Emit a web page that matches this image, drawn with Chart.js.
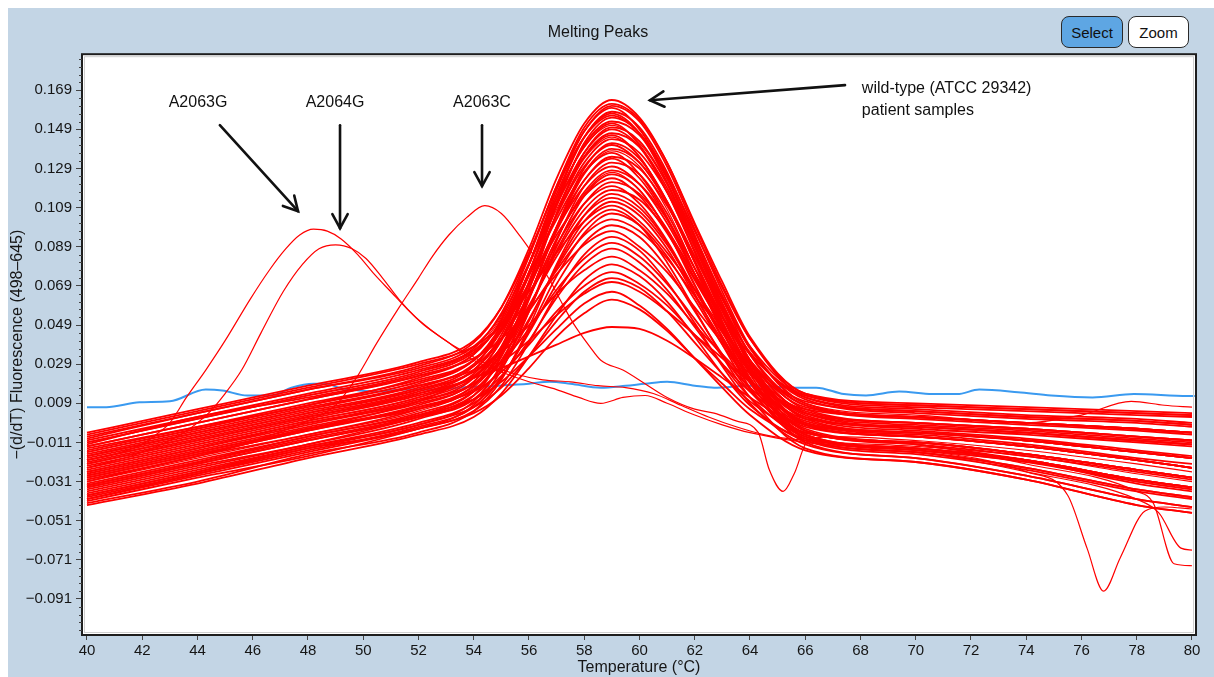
<!DOCTYPE html>
<html><head><meta charset="utf-8">
<script src="https://cdn.jsdelivr.net/npm/chart.js@4.4.1/dist/chart.umd.min.js"></script>
<style>
html,body{margin:0;padding:0;background:#fff;}
#wrap{position:relative;width:1214px;height:677px;overflow:hidden;}
canvas{display:block;}
.btn{position:absolute;top:16px;height:32px;border:1.5px solid #2a2a2a;border-radius:8px;font:15px "Liberation Sans",Arial,sans-serif;display:flex;align-items:center;justify-content:center;box-sizing:border-box;color:#111;}
</style></head><body>
<div id="wrap"><canvas id="c" width="1214" height="677"></canvas>
<div class="btn" style="left:1061px;width:62px;background:#5ea6e3;">Select</div>
<div class="btn" style="left:1128px;width:61px;background:#fff;">Zoom</div>
</div>
<script>
// ---------- data ----------
const xTickValues = [40,42,44,46,48,50,52,54,56,58,60,62,64,66,68,70,72,74,76,78,80];
const xTickLabels = ['40','42','44','46','48','50','52','54','56','58','60','62','64','66','68','70','72','74','76','78','80'];
const yTickValues = [-0.091,-0.071,-0.051,-0.031,-0.011,0.009,0.029,0.049,0.069,0.089,0.109,0.129,0.149,0.169];
const yTickLabels = ['\u22120.091','\u22120.071','\u22120.051','\u22120.031','\u22120.011','0.009','0.029','0.049','0.069','0.089','0.109','0.129','0.149','0.169'];

// wild-type / patient sample curves, sampled at wtTemps
const wtTemps = [40,44,48,52,54,55,56,57,58,59,60,61,62,63,64,66,70,74,78,80];
const wildType = [
[-.008,.004,.016,.028,.040,.058,.088,.124,.152,.164,.155,.132,.100,.069,.042,.012,.005,.002,.000,-.002],
[-.014,-.003,.008,.022,.034,.052,.084,.120,.150,.162,.154,.132,.101,.071,.043,.014,.008,.006,.004,.003],
[-.020,-.008,.004,.016,.028,.047,.080,.118,.148,.161,.153,.130,.098,.066,.038,.009,.002,-.001,-.004,-.006],
[-.011,.001,.013,.025,.037,.055,.085,.120,.148,.160,.149,.125,.093,.060,.031,-.002,-.008,-.013,-.020,-.024],
[-.026,-.014,-.001,.010,.022,.042,.075,.114,.145,.158,.150,.127,.095,.063,.034,.006,-.001,-.004,-.008,-.010],
[-.017,-.005,.007,.019,.031,.049,.080,.116,.145,.157,.147,.122,.090,.057,.028,-.005,-.011,-.017,-.025,-.029],
[-.006,.006,.018,.030,.041,.058,.086,.119,.145,.156,.147,.126,.097,.068,.042,.014,.009,.007,.005,.004],
[-.031,-.018,-.007,.006,.018,.037,.071,.110,.142,.155,.147,.124,.091,.058,.030,.001,-.006,-.010,-.016,-.019],
[-.022,-.010,.002,.014,.026,.044,.076,.112,.141,.153,.146,.124,.094,.064,.037,.011,.004,.001,-.001,-.003],
[-.013,-.001,.011,.023,.034,.051,.080,.114,.140,.152,.141,.117,.086,.054,.026,-.007,-.014,-.020,-.030,-.034],
[-.035,-.023,-.012,.001,.013,.033,.067,.106,.137,.150,.143,.121,.089,.058,.031,.004,-.003,-.006,-.010,-.012],
[-.019,-.007,.005,.017,.029,.046,.076,.110,.137,.149,.140,.117,.087,.056,.029,-.001,-.007,-.012,-.019,-.022],
[-.028,-.016,-.004,.008,.020,.038,.070,.106,.135,.147,.140,.119,.089,.060,.034,.008,.001,-.002,-.005,-.007],
[-.009,.004,.016,.027,.038,.054,.080,.111,.135,.146,.135,.111,.081,.051,.024,-.009,-.016,-.024,-.035,-.039],
[-.024,-.012,.000,.012,.024,.041,.071,.105,.132,.144,.137,.117,.090,.062,.038,.013,.007,.005,.003,.002],
[-.038,-.026,-.013,-.002,.010,.029,.062,.099,.129,.142,.134,.112,.081,.050,.022,-.005,-.012,-.018,-.026,-.030],
[-.016,-.004,.008,.020,.031,.047,.074,.105,.130,.141,.132,.112,.084,.056,.031,.004,-.002,-.005,-.009,-.011],
[-.033,-.021,-.009,.003,.015,.033,.063,.099,.127,.139,.132,.111,.082,.053,.027,.002,-.005,-.009,-.015,-.018],
[-.012,.002,.012,.024,.035,.050,.075,.103,.127,.137,.126,.104,.075,.046,.020,-.011,-.019,-.028,-.040,-.044],
[-.029,-.017,-.005,.007,.018,.035,.064,.097,.123,.135,.129,.110,.084,.058,.035,.012,.006,.003,.001,-.001],
[-.021,-.009,.003,.015,.026,.042,.068,.099,.123,.134,.124,.103,.075,.046,.021,-.008,-.015,-.021,-.031,-.035],
[-.040,-.027,-.014,-.004,.008,.026,.056,.092,.120,.132,.126,.106,.078,.050,.026,.003,-.004,-.007,-.011,-.013],
[-.015,-.003,.009,.021,.031,.046,.070,.098,.120,.130,.121,.101,.075,.049,.025,-.002,-.008,-.013,-.020,-.024],
[-.025,-.013,-.001,.011,.022,.037,.063,.093,.117,.128,.121,.103,.078,.053,.031,.008,.002,-.001,-.004,-.006],
[-.036,-.024,-.012,.002,.011,.028,.056,.089,.115,.126,.118,.097,.069,.042,.017,-.010,-.017,-.025,-.036,-.040],
[-.010,.002,.014,.026,.036,.049,.070,.095,.115,.124,.115,.096,.072,.048,.026,-.001,-.006,-.010,-.016,-.019],
[-.032,-.020,-.008,.004,.015,.031,.057,.087,.111,.122,.116,.098,.073,.049,.027,.005,-.001,-.004,-.008,-.010],
[-.018,-.006,.006,.018,.028,.042,.064,.090,.111,.120,.111,.092,.067,.043,.021,-.006,-.011,-.017,-.025,-.029],
[-.027,-.015,-.003,.009,.019,.034,.058,.086,.108,.118,.113,.097,.075,.053,.034,.013,.008,.006,.004,.003],
[-.042,-.031,-.017,-.006,.005,.021,.048,.080,.105,.116,.109,.091,.065,.039,.016,-.007,-.014,-.020,-.030,-.034],
[-.023,-.011,.001,.013,.023,.036,.059,.084,.105,.114,.107,.090,.067,.045,.025,.002,-.003,-.006,-.010,-.012],
[-.034,-.022,-.010,.002,.013,.027,.051,.079,.102,.112,.105,.088,.064,.041,.020,-.002,-.008,-.013,-.020,-.024],
[-.007,.005,.017,.029,.038,.049,.066,.086,.102,.110,.102,.086,.067,.047,.029,.007,.002,-.001,-.004,-.006],
[-.030,-.018,-.004,.006,.016,.030,.052,.078,.099,.108,.100,.081,.057,.033,.012,-.014,-.021,-.030,-.043,-.047],
[-.039,-.027,-.015,-.003,.007,.022,.046,.074,.096,.106,.100,.084,.062,.039,.020,.000,-.006,-.010,-.016,-.019],
[-.020,-.008,.004,.016,.025,.037,.056,.077,.095,.103,.097,.083,.064,.046,.029,.010,.005,.002,.000,-.002],
[-.037,-.025,-.013,-.001,.009,.022,.045,.070,.091,.100,.094,.078,.056,.034,.015,-.006,-.011,-.017,-.025,-.029],
[-.013,-.001,.011,.023,.032,.042,.057,.075,.090,.097,.089,.076,.058,.040,.024,.004,-.001,-.004,-.008,-.010],
[-.041,-.029,-.018,-.004,.005,.018,.040,.065,.085,.094,.087,.071,.050,.028,.009,-.012,-.019,-.028,-.040,-.044],
[-.026,-.014,-.002,.010,.019,.030,.047,.067,.083,.091,.084,.070,.052,.033,.017,-.003,-.008,-.013,-.020,-.024],
[-.034,-.022,-.010,.002,.011,.023,.041,.063,.080,.088,.081,.067,.048,.029,.012,-.008,-.014,-.020,-.030,-.034],
[-.018,-.006,.006,.018,.026,.035,.049,.065,.077,.084,.077,.065,.049,.034,.020,.001,-.003,-.006,-.010,-.012],
[-.043,-.032,-.019,-.007,.002,.014,.033,.054,.072,.080,.074,.061,.043,.024,.008,-.010,-.016,-.024,-.035,-.039],
[-.029,-.017,-.005,.007,.015,.025,.039,.056,.069,.076,.070,.059,.044,.029,.015,-.002,-.006,-.010,-.016,-.019],
[-.038,-.026,-.014,-.002,.007,.017,.033,.051,.066,.073,.068,.056,.040,.024,.010,-.006,-.011,-.017,-.025,-.029],
[-.022,-.010,.002,.014,.022,.030,.041,.054,.065,.071,.066,.056,.044,.032,.020,.006,.002,-.001,-.004,-.006],
[-.033,-.021,-.008,.003,.011,.020,.033,.047,.060,.066,.059,.047,.032,.017,.003,-.015,-.021,-.030,-.043,-.047],
[-.040,-.028,-.016,-.004,.004,.013,.027,.043,.055,.062,.057,.046,.032,.019,.006,-.009,-.014,-.020,-.030,-.034],
[-.028,-.016,-.004,.010,.022,.027,.033,.039,.045,.048,.047,.041,.032,.022,.012,-.004,-.012,-.020,-.032,-.036]
];

// patient curves with irregular tails
const dipTemps = [40,44,48,52,54,55,56,57,58,59,60,61,62,63,64,66,70,74,75.5,76.2,76.8,77.4,78.3,79,80];
const dipValues = [-.031,-.019,-.007,.005,.017,.034,.064,.098,.126,.138,.130,.108,.078,.048,.022,-.007,-.015,-.026,-.038,-.065,-.087,-.070,-.046,-.044,-.045];
const dropATemps = [40,44,48,52,54,55,56,57,58,59,60,61,62,63,64,66,70,74,78,78.8,79.6,80];
const dropAValues = [-.024,-.012,.000,.012,.023,.038,.063,.093,.116,.127,.118,.097,.070,.043,.019,-.009,-.016,-.026,-.040,-.047,-.065,-.066];
const dropBTemps = [40,44,48,52,54,55,56,57,58,59,60,61,62,63,64,66,70,74,78,78.6,79.35,80];
const dropBValues = [-.016,-.004,.008,.020,.031,.048,.076,.108,.134,.145,.135,.112,.082,.053,.026,-.005,-.012,-.022,-.036,-.042,-.073,-.074];
const bumpTemps = [40,44,48,52,54,55,56,57,58,59,60,61,62,63,64,66,70,74,76,77.8,79,80];
const bumpValues = [-.011,.001,.013,.025,.036,.053,.081,.114,.140,.151,.142,.121,.092,.063,.037,.009,.003,-.001,.003,.010,.008,.007];

// mutant curves
const a2063gTemps = [40,41,42,42.5,43,43.6,44.3,45,45.9,46.6,47.2,47.7,48.2,48.7,49.2,49.8,50.4,51,51.6,52.2,53,54,55,56,57,57.8,58.6,59.4,60.2,61,62,63,64,66,70,74,78,80];
const a2063gValues = [-.020,-.017,-.012,-.007,-.001,.012,.026,.041,.062,.077,.088,.095,.098,.097,.093,.085,.075,.066,.057,.049,.041,.031,.025,.020,.016,.012,.009,.012,.013,.009,.003,-.002,-.006,-.011,-.015,-.021,-.031,-.035];
const a2064gTemps = [40,42,43.5,44.4,45,45.6,46.3,47.1,47.8,48.4,49,49.6,50.1,50.7,51.3,51.9,52.5,53.1,53.7,54.5,55.5,56.5,57.5,58.5,59.5,60.5,61.5,62.5,63.5,64.5,66,70,74,78,80];
const a2064gValues = [-.024,-.016,-.006,.004,.014,.026,.045,.066,.080,.088,.090,.088,.083,.073,.062,.053,.046,.040,.035,.029,.024,.021,.020,.018,.017,.014,.008,.002,-.003,-.007,-.010,-.013,-.018,-.027,-.031];
const a2063cTemps = [40,44,48,49,49.75,50.5,51.3,52,52.5,53.1,53.75,54.4,55,55.7,56.2,56.75,57.2,57.6,58.2,58.6,59.4,60.2,61,62,62.7,63.5,64.3,64.7,65.2,65.6,66.1,67,70,74,78,80];
const a2063cValues = [-.030,-.018,.000,.008,.022,.040,.058,.073,.084,.095,.104,.110,.106,.094,.084,.072,.060,.050,.038,.031,.026,.019,.012,.006,.004,.000,-.006,-.025,-.036,-.027,-.010,-.008,-.010,-.015,-.022,-.026];

// blue control curve
const blueTemps = [40,40.7,41.9,43,44.3,44.9,45.8,46.7,47.4,48.2,48.7,49.1,49.5,50.5,51.5,52.5,53.5,54.9,56,56.75,57.5,58.6,59.5,60.2,61,62,62.7,64,65.8,66.4,67.4,68.2,69.4,70.6,71.5,72.3,73.7,74.9,76.4,77.9,79.85,80.1];
const blueValues = [.007,.007,.0095,.010,.016,.0155,.013,.013,.017,.019,.019,.017,.016,.015,.016,.016,.017,.018,.019,.020,.019,.017,.018,.019,.020,.018,.017,.018,.017,.017,.0137,.013,.015,.0137,.0137,.016,.0147,.013,.012,.0137,.0127,.0127];

// annotations
const annotationLabels = ['A2063G','A2064G','A2063C','wild-type (ATCC 29342)','patient samples'];

// ---------- layout / styling ----------
const FONT = '"Liberation Sans", Arial, Helvetica, sans-serif';
Chart.defaults.font.family = FONT;
Chart.defaults.font.size = 15;
Chart.defaults.color = '#151515';

const labelPos = [
  {x:44.02, y:0.1629, align:'center'},
  {x:48.98, y:0.1629, align:'center'},
  {x:54.30, y:0.1629, align:'center'},
  {x:68.05, y:0.1700, align:'left'},
  {x:68.05, y:0.1588, align:'left'}
];
const arrows = [
  {x1:44.81, y1:0.1511, x2:47.64, y2:0.1072},
  {x1:49.16, y1:0.1511, x2:49.16, y2:0.0985},
  {x1:54.30, y1:0.1511, x2:54.30, y2:0.1200},
  {x1:67.44, y1:0.1716, x2:60.38, y2:0.1639}
];

const pts = (ts, vs) => ts.map((t, i) => ({x: t, y: vs[i]}));
const RED = '#ff0000';
const redLine = (data, w) => ({data, borderColor: RED, borderWidth: w, pointRadius: 0, fill: false, cubicInterpolationMode: 'monotone'});

const datasets = [];
datasets.push(redLine(pts(a2063gTemps, a2063gValues), 1.2));
datasets.push(redLine(pts(a2064gTemps, a2064gValues), 1.2));
datasets.push(redLine(pts(a2063cTemps, a2063cValues), 1.2));
datasets.push(redLine(pts(dipTemps, dipValues), 1.2));
datasets.push(redLine(pts(dropATemps, dropAValues), 1.2));
datasets.push(redLine(pts(dropBTemps, dropBValues), 1.2));
datasets.push(redLine(pts(bumpTemps, bumpValues), 1.2));
wildType.forEach(v => datasets.push(redLine(pts(wtTemps, v), 1.8)));
datasets.push({data: pts(blueTemps, blueValues), borderColor: '#3a9af0', borderWidth: 2, pointRadius: 0, fill: false, cubicInterpolationMode: 'monotone'});

const decor = {
  id: 'decor',
  beforeDraw(chart) {
    const {ctx, chartArea: a} = chart;
    ctx.save();
    ctx.fillStyle = '#ffffff';
    ctx.fillRect(0, 0, chart.width, chart.height);
    ctx.fillStyle = '#c3d5e5';
    ctx.fillRect(8, 8, chart.width - 8, chart.height - 8);
    ctx.fillStyle = '#ffffff';
    ctx.fillRect(a.left, a.top, a.right - a.left, a.bottom - a.top);
    ctx.restore();
  },
  afterDraw(chart) {
    const {ctx, chartArea: a, scales: {x, y}} = chart;
    ctx.save();
    ctx.strokeStyle = '#cfcfcf';
    ctx.lineWidth = 1;
    ctx.strokeRect(a.left + 2.5, a.top + 2.5, a.right - a.left - 5, a.bottom - a.top - 5);
    ctx.strokeStyle = '#1e1e1e';
    ctx.lineWidth = 2;
    ctx.strokeRect(a.left, a.top, a.right - a.left, a.bottom - a.top);
    ctx.strokeStyle = '#444';
    ctx.lineWidth = 1;
    for (let k = -30; k <= 45; k++) {
      if (k % 5 === 0) continue;
      const v = 0.009 + 0.004 * k;
      if (v < y.min || v > y.max) continue;
      const py = Math.round(y.getPixelForValue(v)) + 0.5;
      ctx.beginPath(); ctx.moveTo(a.left - 3, py); ctx.lineTo(a.left, py); ctx.stroke();
    }
    ctx.fillStyle = '#111';
    ctx.font = '16px ' + FONT;
    ctx.textBaseline = 'middle';
    annotationLabels.forEach((t, i) => {
      const p = labelPos[i];
      ctx.textAlign = p.align;
      ctx.fillText(t, x.getPixelForValue(p.x), y.getPixelForValue(p.y));
    });
    ctx.strokeStyle = '#111';
    ctx.lineWidth = 2.6;
    ctx.lineCap = 'round';
    arrows.forEach(ar => {
      const x1 = x.getPixelForValue(ar.x1), y1 = y.getPixelForValue(ar.y1);
      const x2 = x.getPixelForValue(ar.x2), y2 = y.getPixelForValue(ar.y2);
      const ang = Math.atan2(y2 - y1, x2 - x1);
      const L = 16, sp = 0.5;
      ctx.beginPath(); ctx.moveTo(x1, y1); ctx.lineTo(x2, y2); ctx.stroke();
      ctx.beginPath();
      ctx.moveTo(x2 - L * Math.cos(ang - sp), y2 - L * Math.sin(ang - sp));
      ctx.lineTo(x2, y2);
      ctx.lineTo(x2 - L * Math.cos(ang + sp), y2 - L * Math.sin(ang + sp));
      ctx.stroke();
    });
    ctx.restore();
  }
};

new Chart(document.getElementById('c'), {
  type: 'line',
  data: {datasets},
  options: {
    responsive: false,
    devicePixelRatio: 1,
    animation: false,
    events: [],
    layout: {padding: {left: 0, right: 18, top: 0, bottom: 0}},
    plugins: {
      legend: {display: false},
      tooltip: {enabled: false},
      title: {display: true, text: 'Melting Peaks', color: '#151515', font: {size: 16, weight: 'normal'}, padding: {top: 23, bottom: 12}}
    },
    scales: {
      x: {
        type: 'linear', min: 39.82, max: 80.145,
        afterBuildTicks: s => { s.ticks = xTickValues.map(v => ({value: v})); },
        afterFit: s => { s.height = 42; },
        ticks: {callback: (v, i) => xTickLabels[i], autoSkip: false, maxRotation: 0, padding: 2, color: '#151515'},
        grid: {drawOnChartArea: false, drawTicks: true, tickLength: 5, tickColor: '#444'},
        border: {display: false},
        title: {display: true, text: 'Temperature (°C)', color: '#151515', font: {size: 16}, padding: {top: 0, bottom: 0}}
      },
      y: {
        type: 'linear', min: -0.1094, max: 0.1874,
        afterBuildTicks: s => { s.ticks = yTickValues.map(v => ({value: v})); },
        afterFit: s => { s.width = 82; },
        ticks: {callback: (v, i) => yTickLabels[i], autoSkip: false, padding: 4, color: '#151515'},
        grid: {drawOnChartArea: false, drawTicks: true, tickLength: 6, tickColor: '#444'},
        border: {display: false},
        title: {display: true, text: '\u2212(d/dT) Fluorescence (498\u2013645)', color: '#151515', font: {size: 16}, padding: {top: 8, bottom: 0}}
      }
    }
  },
  plugins: [decor]
});
</script>
</body></html>
